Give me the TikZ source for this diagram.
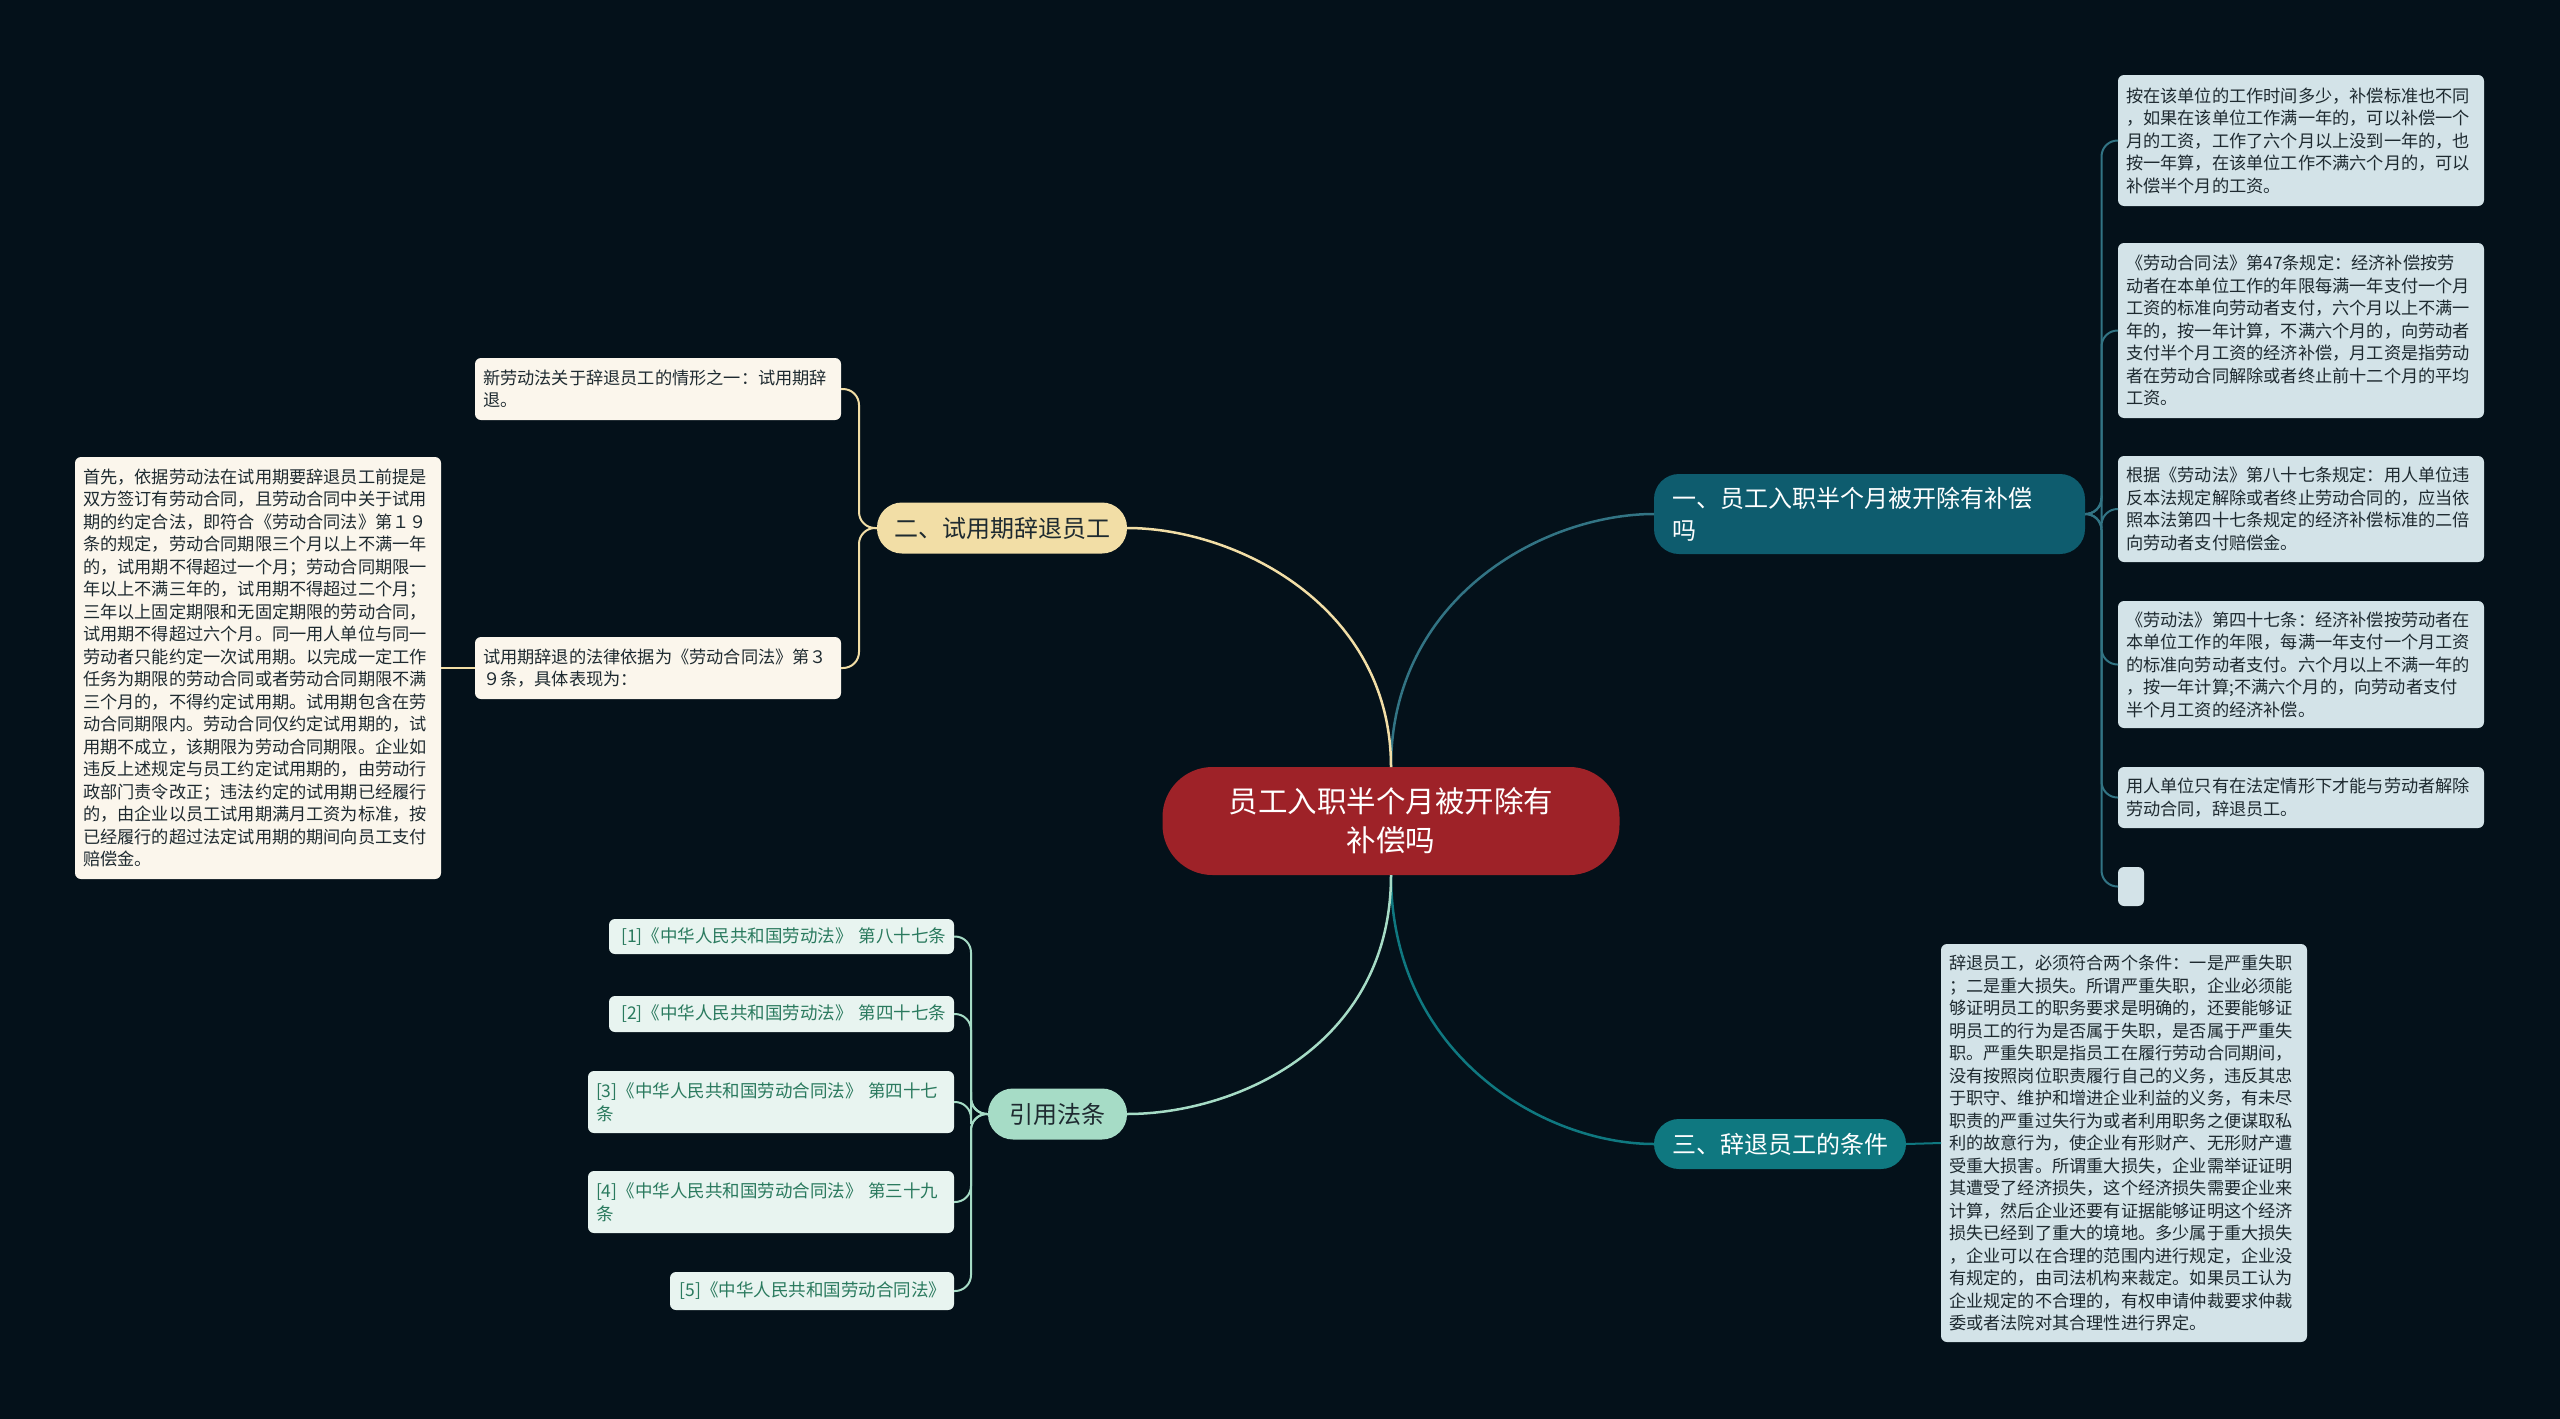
\documentclass[tikz,border=0pt]{standalone}
\usepackage{fontspec}
\setmainfont{Noto Sans CJK SC}
\usetikzlibrary{calc}
\definecolor{bg}{HTML}{04111A}
\definecolor{cred}{HTML}{9E2228}
\definecolor{tealA}{HTML}{0E5C6E}
\definecolor{tealB}{HTML}{0F7880}
\definecolor{beige}{HTML}{F2DEA6}
\definecolor{mint}{HTML}{A6DCC6}
\definecolor{rfill}{HTML}{D3E3E8}
\definecolor{lfill}{HTML}{FBF6EC}
\definecolor{cfill}{HTML}{E8F4F0}
\definecolor{ctext}{HTML}{2A7A5E}
\definecolor{dtext}{HTML}{1E2A30}
\begin{document}
\begin{tikzpicture}[x=1pt,y=-1pt,
  every node/.style={inner sep=0pt, outer sep=0pt},
  leaf/.style={rounded corners=6pt, inner xsep=8pt, align=left, font=\fontsize{17.2}{22.5}\selectfont, text=dtext, anchor=center},
  rleaf/.style={leaf, fill=rfill},
  lleaf/.style={leaf, fill=lfill},
  cite/.style={leaf, fill=cfill, text=ctext, font=\fontsize{17.5}{23}\selectfont},
  branch/.style={rounded corners=25pt, align=left, font=\fontsize{24}{32}\selectfont, anchor=center},
  lnA/.style={draw=tealA!85!white, line width=2.5pt},
  lnB/.style={draw=beige, line width=2.5pt},
  lnC/.style={draw=tealB, line width=2.5pt},
  lnD/.style={draw=mint, line width=2.5pt}]
\fill[bg] (0,0) rectangle (2560,1419);
\useasboundingbox (0,0) rectangle (2560,1419);

% center
\node[fill=cred, rounded corners=50pt, minimum width=457pt, minimum height=108pt, text=white, align=center, font=\fontsize{29.5}{39}\selectfont] (c) at (1391,821) {员工入职半个月被开除有\\补偿吗};

% branches
\node[branch, fill=tealA, text=white, minimum width=431pt, minimum height=80pt, text width=395pt] (b1) at (1869.5,514) {一、员工入职半个月被开除有补偿\\吗};
\node[branch, fill=beige, text=dtext, minimum width=250pt, minimum height=51pt, align=center] (b2) at (1002,528) {二、试用期辞退员工};
\node[branch, fill=tealB, text=white, minimum width=252pt, minimum height=50pt, align=center] (b3) at (1780,1144) {三、辞退员工的条件};
\node[branch, fill=mint, text=dtext, minimum width=139pt, minimum height=51pt, align=center] (b4) at (1057.5,1114) {引用法条};

% right leaves
\node[rleaf, text width=350pt, minimum height=131pt] (r1) at (2301,140.5) {按在该单位的工作时间多少，补偿标准也不同\\，如果在该单位工作满一年的，可以补偿一个\\月的工资，工作了六个月以上没到一年的，也\\按一年算，在该单位工作不满六个月的，可以\\补偿半个月的工资。};
\node[rleaf, text width=350pt, minimum height=175pt] (r2) at (2301,330.5) {《劳动合同法》第47条规定：经济补偿按劳\\动者在本单位工作的年限每满一年支付一个月\\工资的标准向劳动者支付，六个月以上不满一\\年的，按一年计算，不满六个月的，向劳动者\\支付半个月工资的经济补偿，月工资是指劳动\\者在劳动合同解除或者终止前十二个月的平均\\工资。};
\node[rleaf, text width=350pt, minimum height=106pt] (r3) at (2301,509) {根据《劳动法》第八十七条规定：用人单位违\\反本法规定解除或者终止劳动合同的，应当依\\照本法第四十七条规定的经济补偿标准的二倍\\向劳动者支付赔偿金。};
\node[rleaf, text width=350pt, minimum height=127pt] (r4) at (2301,664.5) {《劳动法》第四十七条：经济补偿按劳动者在\\本单位工作的年限，每满一年支付一个月工资\\的标准向劳动者支付。六个月以上不满一年的\\，按一年计算;不满六个月的，向劳动者支付\\半个月工资的经济补偿。};
\node[rleaf, text width=350pt, minimum height=61pt] (r5) at (2301,797.5) {用人单位只有在法定情形下才能与劳动者解除\\劳动合同，辞退员工。};
\node[fill=rfill, rounded corners=6pt, minimum width=26pt, minimum height=39pt] (r6) at (2131,886.5) {};

% left leaves
\node[lleaf, text width=350pt, minimum height=62pt] (l1) at (658,389) {新劳动法关于辞退员工的情形之一：试用期辞\\退。};
\node[lleaf, text width=350pt, minimum height=62pt] (l2) at (658,668) {试用期辞退的法律依据为《劳动合同法》第３\\９条，具体表现为：};
\node[lleaf, text width=350pt, minimum height=422pt] (big) at (258,668) {首先，依据劳动法在试用期要辞退员工前提是\\双方签订有劳动合同，且劳动合同中关于试用\\期的约定合法，即符合《劳动合同法》第１９\\条的规定，劳动合同期限三个月以上不满一年\\的，试用期不得超过一个月；劳动合同期限一\\年以上不满三年的，试用期不得超过二个月；\\三年以上固定期限和无固定期限的劳动合同，\\试用期不得超过六个月。同一用人单位与同一\\劳动者只能约定一次试用期。以完成一定工作\\任务为期限的劳动合同或者劳动合同期限不满\\三个月的，不得约定试用期。试用期包含在劳\\动合同期限内。劳动合同仅约定试用期的，试\\用期不成立，该期限为劳动合同期限。企业如\\违反上述规定与员工约定试用期的，由劳动行\\政部门责令改正；违法约定的试用期已经履行\\的，由企业以员工试用期满月工资为标准，按\\已经履行的超过法定试用期的期间向员工支付\\赔偿金。};

% branch 3 leaf
\node[rleaf, text width=350pt, minimum height=398pt] (r7) at (2124,1143) {辞退员工，必须符合两个条件：一是严重失职\\；二是重大损失。所谓严重失职，企业必须能\\够证明员工的职务要求是明确的，还要能够证\\明员工的行为是否属于失职，是否属于严重失\\职。严重失职是指员工在履行劳动合同期间，\\没有按照岗位职责履行自己的义务，违反其忠\\于职守、维护和增进企业利益的义务，有未尽\\职责的严重过失行为或者利用职务之便谋取私\\利的故意行为，使企业有形财产、无形财产遭\\受重大损害。所谓重大损失，企业需举证证明\\其遭受了经济损失，这个经济损失需要企业来\\计算，然后企业还要有证据能够证明这个经济\\损失已经到了重大的境地。多少属于重大损失\\，企业可以在合理的范围内进行规定，企业没\\有规定的，由司法机构来裁定。如果员工认为\\企业规定的不合理的，有权申请仲裁要求仲裁\\委或者法院对其合理性进行界定。};

% citations
\node[cite, text width=329pt, minimum height=35pt, align=right] (c1) at (781.5,936.5) {[1]《中华人民共和国劳动法》 第八十七条};
\node[cite, text width=329pt, minimum height=36pt, align=right] (c2) at (781.5,1014) {[2]《中华人民共和国劳动法》 第四十七条};
\node[cite, text width=350pt, minimum height=62pt] (c3) at (771,1102) {[3]《中华人民共和国劳动合同法》 第四十七\\条};
\node[cite, text width=350pt, minimum height=62pt] (c4) at (771,1202) {[4]《中华人民共和国劳动合同法》 第三十九\\条};
\node[cite, text width=268pt, minimum height=38pt, align=right] (c5) at (812,1291) {[5]《中华人民共和国劳动合同法》};

% center connectors
\draw[lnA] (c.north) .. controls ($(c.north)+(0,-170)$) and ($(b1.west)+(-110,0)$) .. (b1.west);
\draw[lnB] (c.north) .. controls ($(c.north)+(0,-160)$) and ($(b2.east)+(110,0)$) .. (b2.east);
\draw[lnC] (c.south) .. controls ($(c.south)+(0,180)$) and ($(b3.west)+(-110,0)$) .. (b3.west);
\draw[lnD] (c.south) .. controls ($(c.south)+(0,170)$) and ($(b4.east)+(110,0)$) .. (b4.east);

% branch 1 leaves
\foreach \r in {r1,r2,r3,r4,r5,r6}
  \draw[lnA, line width=2pt, rounded corners=16pt] (b1.east) -| ($(b1.east)!0.5!(\r.west)$) |- (\r.west);
% branch 2 leaves
\foreach \r in {l1,l2}
  \draw[lnB, line width=2pt, rounded corners=16pt] (b2.west) -| ($(b2.west)!0.5!(\r.east)$) |- (\r.east);
\draw[lnB, line width=2pt] (l2.west) -- (big.east);
% branch 3
\draw[lnC, line width=2pt] (b3.east) -- (r7.west);
% citations
\foreach \r in {c1,c2,c3,c4,c5}
  \draw[lnD, line width=2pt, rounded corners=16pt] (b4.west) -| ($(b4.west)!0.5!(\r.east)$) |- (\r.east);
\end{tikzpicture}
\end{document}
